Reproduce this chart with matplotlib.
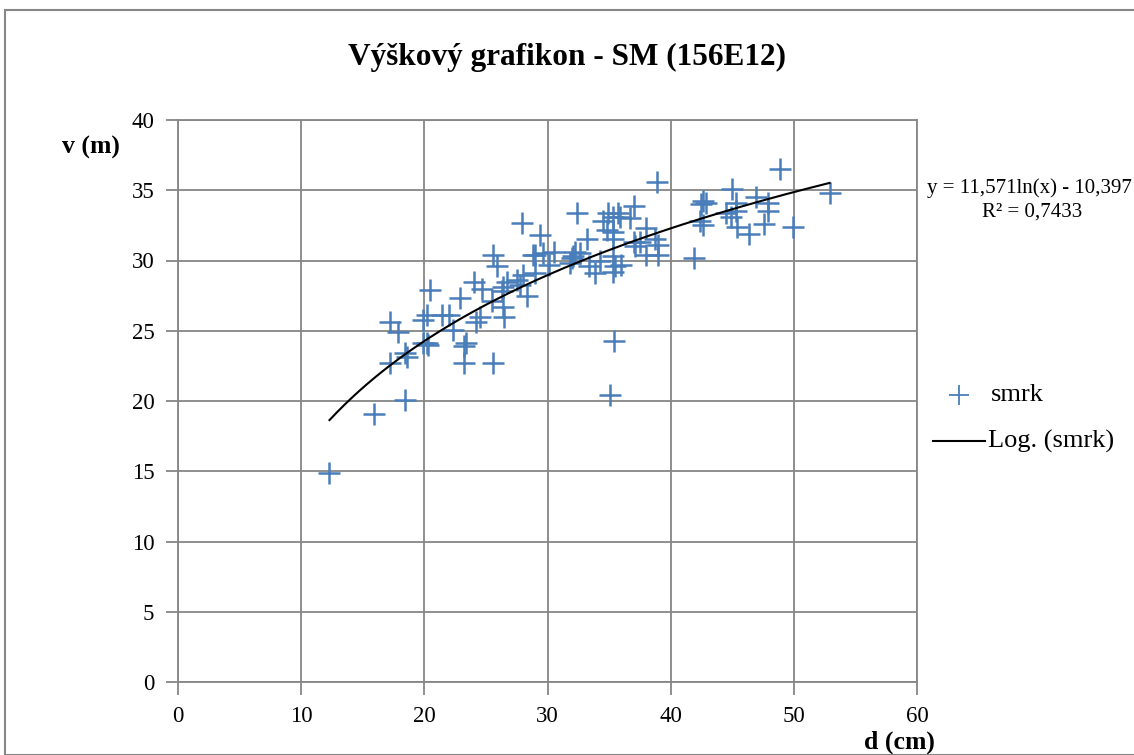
import numpy as np
import matplotlib.pyplot as plt
from matplotlib.patches import Rectangle
from matplotlib.lines import Line2D

plt.rcParams['font.family'] = ['Liberation Serif', 'DejaVu Serif']

# prumer (cm) a vyska (m) - smrk
d = [12.3, 15.9, 18.4, 17.2, 17.9, 17.2, 18.4, 18.6, 19.9, 20.2, 19.9, 20.3,
     20.45, 24.0, 24.65, 22.9, 21.4, 22.0, 22.35, 20.2, 23.4, 23.2, 23.2, 25.6,
     24.5, 24.2, 25.5, 26.4, 26.7, 26.3, 26.4, 26.5, 27.5, 27.75, 28.3, 28.0,
     29.0, 29.0, 30.5, 30.1, 31.95, 32.2, 27.9, 29.4, 25.6, 25.9, 32.4, 37.0,
     34.5, 35.3, 35.9, 36.7, 34.8, 35.3, 38.0, 33.2, 35.3, 37.0, 37.5, 38.7,
     37.1, 39.0, 38.0, 39.0, 32.1, 32.6, 33.4, 33.85, 35.5, 35.3, 36.0, 34.25,
     35.3, 29.65, 28.8, 31.8, 35.4, 35.1, 38.9, 34.9, 35.7, 42.5, 42.6, 42.4,
     42.6, 41.9, 48.9, 45.0, 46.9, 45.3, 47.9, 42.9, 45.3, 47.9, 44.5, 44.9,
     45.35, 47.6, 46.4, 49.9, 52.9]
v = [14.9, 19.1, 20.1, 25.6, 24.9, 22.7, 23.4, 23.1, 25.8, 26.1, 24.1, 24.0,
     27.9, 28.5, 27.95, 27.3, 26.1, 26.1, 25.05, 24.1, 24.1, 23.9, 22.7, 22.7,
     26.0, 25.6, 27.1, 28.1, 28.5, 27.8, 26.7, 26.0, 28.6, 28.25, 27.5, 29.0,
     29.1, 30.4, 30.6, 29.7, 30.2, 30.6, 32.7, 31.8, 30.4, 29.6, 33.4, 33.9,
     32.8, 33.1, 33.1, 33.0, 32.2, 32.0, 32.3, 31.5, 31.5, 31.3, 31.3, 31.5,
     31.0, 31.1, 30.4, 30.4, 30.3, 30.5, 29.6, 29.1, 29.6, 29.2, 29.7, 30.0,
     30.3, 30.5, 30.4, 29.8, 24.3, 20.4, 35.6, 33.35, 33.35, 34.0, 34.2, 32.8,
     32.5, 30.15, 36.5, 35.1, 34.5, 34.1, 34.1, 34.1, 33.5, 33.5, 33.35, 33.1,
     32.4, 32.6, 31.9, 32.35, 34.8]

# logaritmicky trend z Excelu
a = 11.571
b = -10.397
r2 = 0.7433

fig = plt.figure(figsize=(11.34, 7.55), dpi=100)
fig.patches.append(Rectangle((5/1134, 0), 1.2, 1 - 10/755, transform=fig.transFigure,
                             fill=False, edgecolor='#868686', linewidth=1.5))
ax = fig.add_axes([178/1134, 1 - 682/755, (917 - 178)/1134, (682 - 120)/755])

ax.scatter(d, v, marker='+', s=240, color='#4A7EBB', linewidths=1.8, zorder=3)
xs = np.linspace(min(d), max(d), 200)
ax.plot(xs, a*np.log(xs) + b, color='black', linewidth=1.5, zorder=4)

ax.set_xlim(0, 60)
ax.set_ylim(0, 40)
ax.set_xticks(np.arange(0, 61, 10))
ax.set_yticks(np.arange(0, 41, 5))
ax.grid(True, color='#868686', linewidth=1.3)
ax.set_axisbelow(True)
for s in ax.spines.values():
    s.set_color('#868686')
    s.set_linewidth(1.3)
ax.tick_params(axis='both', length=9, width=1.3, color='#868686', labelsize=16.5, pad=8)

fig.text(567/1134, 1 - 57/755, 'Výškový grafikon - SM (156E12)', ha='center', va='center',
         fontsize=22.5, fontweight='bold')
fig.text(91/1134, 1 - 147/755, 'v (m)', ha='center', va='center', fontsize=18.5, fontweight='bold')
fig.text(935/1134, 1 - 742/755, 'd (cm)', ha='right', va='center', fontsize=18.5, fontweight='bold')

fig.text(927/1134, 1 - 188/755, 'y = 11,571ln(x) - 10,397', ha='left', va='center', fontsize=15)
fig.text(1032/1134, 1 - 212/755, 'R² = 0,7433', ha='center', va='center', fontsize=15)

# legenda
fig.lines.append(Line2D([959/1134], [1 - 395/755], marker='+', markersize=14, mew=1.3,
                        color='#4A7EBB', transform=fig.transFigure))
fig.text(991/1134, 1 - 395/755, 'smrk', ha='left', va='center', fontsize=19)
fig.lines.append(Line2D([933/1134, 985/1134], [1 - 441/755, 1 - 441/755], color='black',
                        linewidth=1.5, transform=fig.transFigure))
fig.text(988/1134, 1 - 441/755, 'Log. (smrk)', ha='left', va='center', fontsize=19)

fig.savefig('out.png', dpi=100)
